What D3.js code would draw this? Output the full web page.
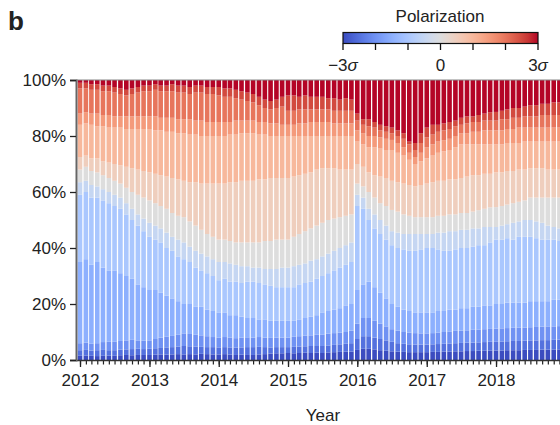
<!DOCTYPE html>
<html><head><meta charset="utf-8">
<script src="https://cdn.jsdelivr.net/npm/d3@7"></script>
<style>
body{margin:0;background:#fff}
svg{display:block}
text{font-family:"Liberation Sans",Arial,Helvetica,sans-serif;fill:#222}
</style>
</head><body>
<svg id="chart" width="560" height="425"></svg>
<script>
// ---------------- DATA ----------------
const firstYear = 2012;
const monthCount = 84; // Jan 2012 .. Dec 2018
const binValues = [-3,-2.5,-2,-1.5,-1,-0.5,0,0.5,1,1.5,2,2.5,3];
const binKeys = binValues.map(v => "b" + v);
const yTickValues = [0,20,40,60,80,100];
const yearTickValues = [2012,2013,2014,2015,2016,2017,2018];
const colorbarTicks = [-3,-2,-1,0,1,2,3];
const colorbarLabels = [{v:-3,t:"\u22123"},{v:0,t:"0"},{v:3,t:"3"}];

// cumulative share (%) of users at or below each polarization bin, per month
const cumM30 = [1.5,1.6,1.5,1.4,1.5,1.6,1.5,1.7,1.8,1.7,1.8,1.8,
 1.8,1.9,2.0,1.9,2.0,2.1,2.0,2.1,2.0,2.2,2.1,2.0,
 2.0,2.1,1.9,1.8,1.9,1.8,1.8,2.0,2.1,2.3,2.4,2.4,
 2.5,2.4,2.5,2.6,2.5,2.6,2.5,2.7,2.8,2.9,3.0,3.0,
 3.6,4.0,4.0,3.8,3.5,3.3,3.1,3.0,2.9,2.8,2.8,2.8,
 2.8,2.9,2.9,3.0,3.0,3.1,3.1,3.2,3.2,3.3,3.3,3.4,
 3.4,3.4,3.5,3.5,3.5,3.6,3.6,3.6,3.7,3.7,3.7,3.8];
const cumM25 = [3.5,3.6,3.4,3.5,3.6,3.5,3.5,3.7,3.8,3.9,4.0,3.9,
 4.0,4.2,4.3,4.5,4.6,4.8,5.0,4.9,4.8,4.7,4.6,4.6,
 4.5,4.6,4.5,4.4,4.5,4.6,4.6,4.7,4.6,4.5,4.6,4.6,
 4.6,4.7,4.8,4.9,5.0,5.0,5.0,5.2,5.4,5.6,5.8,6.0,
 7.5,8.5,8.5,8.0,7.5,7.0,6.5,6.0,5.8,5.6,5.5,5.5,
 5.5,5.6,5.7,5.8,5.9,6.0,6.1,6.2,6.2,6.3,6.4,6.5,
 6.5,6.6,6.7,6.8,6.8,6.9,7.0,7.0,7.1,7.1,7.2,7.3];
const cumM20 = [6.0,6.2,5.8,6.0,6.4,6.5,6.5,6.8,7.0,7.2,7.0,6.9,
 7.0,7.5,8.0,8.3,8.6,9.0,9.5,9.3,9.0,8.8,8.5,8.2,
 8.0,8.2,8.0,7.8,8.0,8.1,8.0,8.2,8.0,7.9,8.0,8.0,
 8.0,8.3,8.5,8.7,8.8,9.0,9.0,9.4,9.6,9.8,10.0,10.5,
 13.0,15.0,15.0,14.0,13.0,12.0,11.0,10.5,10.0,9.8,9.6,9.5,
 9.5,9.6,9.8,10.0,10.2,10.4,10.5,10.6,10.8,10.9,11.0,11.1,
 11.2,11.3,11.4,11.5,11.6,11.6,11.7,11.8,11.9,12.0,12.0,12.1];
const cumM15 = [35,36,34,35,33,32,32,31,30,29,27,26,
 25,25,24,23,22,21,20,20,19,19,18,17.5,
 17,17,16,16,15.5,15,15,14.5,14.5,14,14,14,
 14,14,14.5,15,15.5,16,17,17.5,18,18.5,19.5,20,
 25,27,28,26,24,22,20,19,18,17.5,17,17,
 17,17,17.5,17.5,18,18,18.5,18.5,19,19,19.5,19.5,
 20,20,20.5,20.5,20.5,20.5,21,21,21,21,21.5,21.5];
const cumM10 = [59,60,58,58,57,56,55,54,52,50,48,46,
 44,43,42,40,39,37,36,35,33,32,31,30,
 28.5,29,28,28,27.5,28,28,27.5,27,26.5,26,26,
 26,26,27,27.5,28,29,30,31,32,33,34,35,
 55,54,50,47,45,43,41,40,39.5,39,39,39.5,
 40,40,39.5,39,39,39.5,40,40,40.5,41,41,42,
 43,43,43.5,43,44,44,44,43.5,43,43,43,42.5];
const cumM05 = [63.5,64,62.5,62,61,60,59,58,56,54,52,50.5,
 49,48,47,45.5,44,43,42,40.5,39,38,37,36,
 35,35,34.5,34,33.5,33.5,33,33,32.5,32.5,32.5,33,
 33,33.5,34,34.5,35.5,36,37,38,39,40,41,42,
 59,58,54,52,50,48,46,45.5,45,45,45,45,
 45,45,45.5,45.5,46,46,46.5,46.5,47,47,47.5,47.5,
 47.5,48,48.5,49,49.5,50,50,49.5,49,48,47.5,47];
const cumZ0 = [68,69,67.5,67,66,65,64,63,61.5,60,59,58,
 57,56,55,54,52.5,51.5,51,49.5,48,46.5,45,44,
 43,43,42.5,42,42,42,42,42,42.5,42.5,43,43,
 43,44,45,46,47,48,49,50,50.5,51,51.5,52,
 63,62,60,58,56,55,53.6,53,52,51.5,51,51,
 51,51,51.5,51.5,52,52,52.5,52.5,53,53.5,54,54.5,
 54.6,55,55.5,56,56.5,57,58,58,58,58,58,58];
const cumP05 = [72.5,73,72,72,71,70.5,70,69.5,69,68.5,68,67.5,
 67,66.5,66,65.5,65,64.5,64,63.5,63.5,63,63,63,
 63,63,63.5,63.5,64,64,64,64.5,64.5,65,65,65,
 65,65.5,66,66.5,67,68,68.5,68.5,68.5,68,68,68,
 70,69,67,66,65.5,65,64,63.5,63,62.5,62,62.5,
 63,63.5,64,64,64.5,64.5,65,65.5,66,66,66.5,66.5,
 67,67,67.5,67.5,68,68,68.5,68.5,68.5,68,68,68];
const cumP10 = [84,84.5,84,83.5,83.5,83,83,83,82.5,82.5,82.5,82.5,
 82.5,82,82,81.5,81.5,81,81,80.5,80.5,80,80,80,
 80,80,80.5,80.5,81,81,81,80.5,80.5,80,80,80,
 80,80,80,80,80,80,80,80,80,80,80,80,
 78,77,76,76,75.5,75,75,74,73,71.5,70,71,
 72,73,74,74.5,75,76,77,77,77,77,77,77,
 77,77,77.5,77.5,77.5,78,78,78,78,78,78,78];
const cumP15 = [88,88.5,88,88,87.5,87.5,87,87,87,87,87,87,
 87,87,86.5,86.5,86.5,86,86,86,85.5,85.5,85,85,
 85,85,85,85.5,85.5,85.5,85.5,85,85,84.5,84.5,84,
 84,84,84.5,84.5,85,85,85,85,84.5,84.5,84.5,84.5,
 82,81,80,80,79.5,79,78.6,77.5,76,74,72.5,74,
 76,77,78,78.5,79,80,81,81,81.5,81.5,82,82,
 82,82,82.5,82.5,83,83,83,83,83,83,83,83];
const cumP20 = [97,97,96.5,96.5,96,96,95.5,95,94.5,95,95.5,96,
 96,96.5,96,96,96,95.5,95.5,95,95.5,95.5,95,95,
 94.5,94,94,93.5,93,92.5,92,91,90,89.5,90,90.5,
 89,89,89.5,89.5,89.5,89.5,89.5,89.5,89,89,89,89,
 85.5,84,83.5,83,82,81.5,81,80,79,77,75,77.5,
 79.5,80.5,81.5,82,82.5,83.5,84,84.5,85,85,85.5,85.5,
 85.5,86,86,86.5,86.5,87,87,87,87.5,87.5,87.5,87.5];
const cumP25 = [99,99,98.5,98.5,98,98,97.5,97,96.5,97,97.5,98,
 98,98.5,98,98,98.5,98,98,97.5,98,98,97.5,97.5,
 97.5,97,97,96.5,96,95.5,95,94,93,92.5,93,94,
 94.5,94.5,94,94.5,94,94,94,93.5,93.5,93,93.5,93,
 88,86,86,85,84,83.5,83,82,81,78,77.5,81,
 83,84,84,84.5,85,85.5,86.5,87,87,87.5,88,88.5,
 88.6,89,89.5,90,90,90.5,91,91,91.5,91.5,92,92];

// ---------------- BUILD ----------------
const cumulative = [cumM30,cumM25,cumM20,cumM15,cumM10,cumM05,cumZ0,cumP05,cumP10,cumP15,cumP20,cumP25];
const rows = d3.range(monthCount).map(i => {
  const r = {date: new Date(firstYear, i, 1)};
  let prev = 0;
  binKeys.forEach((k, j) => {
    const c = j < cumulative.length ? cumulative[j][i] : 100;
    r[k] = c - prev; prev = c;
  });
  return r;
});

// coolwarm colormap (Moreland) control points
const cw = [[59,76,192],[68,90,204],[77,104,215],[87,117,225],[98,130,234],[108,142,241],[119,154,247],[130,165,251],[141,176,254],[152,185,255],[163,194,255],[174,201,253],[184,208,249],[194,213,244],[204,217,238],[213,219,230],[221,221,221],[229,216,209],[236,211,197],[241,204,185],[245,196,173],[247,187,160],[247,177,148],[247,166,135],[244,154,123],[241,141,111],[236,127,99],[229,112,88],[222,96,77],[213,80,66],[203,62,56],[192,40,47],[180,4,38]].map(c => d3.rgb(c[0],c[1],c[2]).formatHex());
const coolwarm = d3.scaleLinear().domain(d3.range(cw.length).map(i => i/(cw.length-1))).range(cw).interpolate(d3.interpolateRgb);
const colorOf = v => coolwarm((v + 3) / 6);

const svg = d3.select("#chart");
const x = d3.scaleTime().domain([new Date(2012,0,1), new Date(2019,0,1)]).range([80, 565.3]);
const y = d3.scaleLinear().domain([0,100]).range([360, 80]);
const barW = 4.6;

const series = d3.stack().keys(binKeys)(rows);
svg.append("g").selectAll("g").data(series).join("g")
  .attr("fill", (d, i) => colorOf(binValues[i]))
  .selectAll("rect").data(d => d).join("rect")
  .attr("x", d => x(d.data.date) - barW/2)
  .attr("width", barW)
  .attr("y", d => y(d[1]))
  .attr("height", d => y(d[0]) - y(d[1]));

// top line
svg.append("line").attr("x1", 76).attr("x2", 560).attr("y1", y(100)).attr("y2", y(100))
  .attr("stroke", "#888").attr("stroke-width", 1.2);

// x axis: monthly minor ticks, yearly major ticks
const months = d3.range(monthCount).map(i => new Date(firstYear, i, 1));
const gxMinor = svg.append("g").attr("transform", "translate(0,360)")
  .call(d3.axisBottom(x).tickValues(months).tickSize(4.5).tickFormat(""));
gxMinor.select(".domain").remove();
gxMinor.selectAll(".tick line").attr("stroke", "#222").attr("stroke-width", 1.2);
const gxMajor = svg.append("g").attr("transform", "translate(0,360)")
  .call(d3.axisBottom(x).tickValues(yearTickValues.map(yy => new Date(yy,0,1))).tickSize(7).tickPadding(7).tickFormat(d3.timeFormat("%Y")));
gxMajor.select(".domain").remove();
gxMajor.selectAll(".tick line").attr("stroke", "#222").attr("stroke-width", 1.3);
gxMajor.selectAll(".tick text").style("font-size", "17px").attr("fill", "#222").style("font-family", "'Liberation Sans',Arial,sans-serif");
svg.append("line").attr("x1", 76).attr("x2", 560).attr("y1", 360.5).attr("y2", 360.5)
  .attr("stroke", "#333").attr("stroke-width", 1.5);

// y axis
const gy = svg.append("g").attr("transform", "translate(76,0)")
  .call(d3.axisLeft(y).tickValues(yTickValues).tickSize(6).tickPadding(4).tickFormat(d => d + "%"));
gy.select(".domain").attr("stroke", "#666").attr("stroke-width", 2);
gy.selectAll(".tick line").attr("stroke", "#222").attr("stroke-width", 1.3);
gy.selectAll(".tick text").style("font-size", "17px").attr("fill", "#222").style("font-family", "'Liberation Sans',Arial,sans-serif");

// axis title
svg.append("text").attr("x", 323).attr("y", 421).attr("text-anchor", "middle")
  .style("font-size", "17px").text("Year");

// panel letter
svg.append("text").attr("x", 8).attr("y", 30).style("font-size", "26px").style("font-weight", "bold").attr("fill", "#000").text("b");

// colorbar
const cbX = d3.scaleLinear().domain([-3,3]).range([343,538]);
const grad = svg.append("defs").append("linearGradient").attr("id", "cwgrad");
d3.range(0, 1.0001, 0.05).forEach(t => grad.append("stop").attr("offset", t).attr("stop-color", coolwarm(t)));
svg.append("rect").attr("x", cbX(-3)).attr("y", 32.5).attr("width", cbX(3) - cbX(-3)).attr("height", 11)
  .attr("fill", "url(#cwgrad)").attr("stroke", "#111").attr("stroke-width", 1.2);
svg.append("g").selectAll("line").data(colorbarTicks).join("line")
  .attr("x1", d => cbX(d)).attr("x2", d => cbX(d)).attr("y1", 43.5).attr("y2", 50)
  .attr("stroke", "#111").attr("stroke-width", 1.3);
const cbl = svg.append("g").selectAll("text").data(colorbarLabels).join("text")
  .attr("x", d => cbX(d.v)).attr("y", 71).attr("text-anchor", "middle").style("font-size", "17px");
cbl.append("tspan").text(d => d.t);
cbl.filter(d => d.v !== 0).append("tspan").style("font-style", "italic").text("\u03c3");
svg.append("text").attr("x", 440).attr("y", 22).attr("text-anchor", "middle").style("font-size", "17px").text("Polarization");
</script>
</body></html>
